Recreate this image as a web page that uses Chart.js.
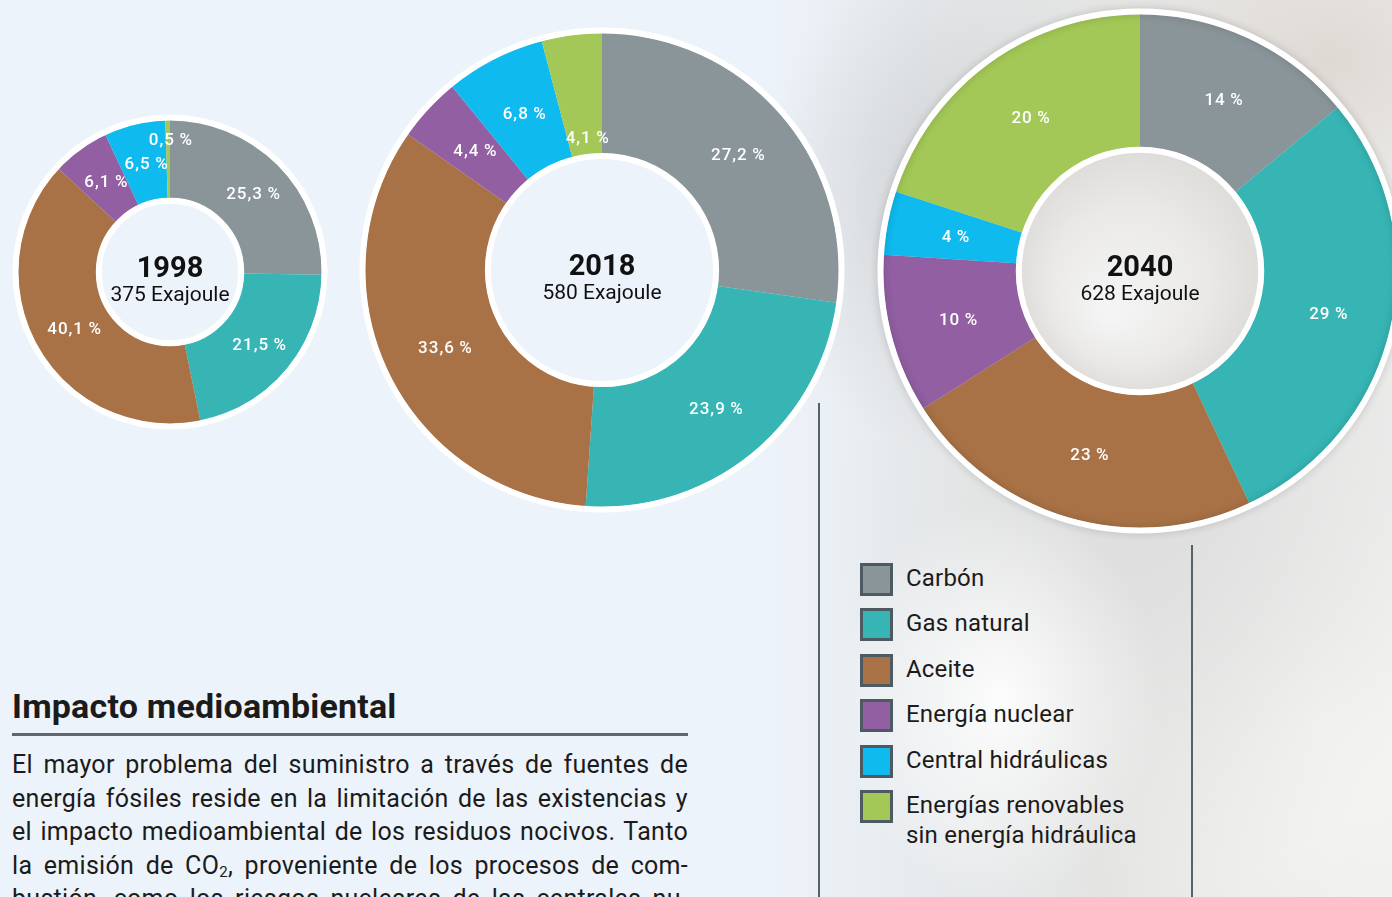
<!DOCTYPE html>
<html><head><meta charset="utf-8">
<script src="https://cdn.jsdelivr.net/npm/chart.js@4.4.1/dist/chart.umd.min.js"></script>
<style>
html,body{margin:0;padding:0;width:1392px;height:897px;overflow:hidden;}
body{position:relative;font-family:Roboto,"Noto Sans",sans-serif;color:#1b1b1b;
background:
 radial-gradient(ellipse 160px 200px at 1000px 700px, rgba(255,255,255,0.9), rgba(255,255,255,0) 100%),
 radial-gradient(ellipse 220px 170px at 1330px 60px, rgba(222,216,210,0.95), rgba(222,216,210,0) 100%),
 radial-gradient(ellipse 200px 260px at 960px 200px, rgba(205,207,209,0.9), rgba(205,207,209,0) 100%),
 radial-gradient(ellipse 320px 380px at 1150px 520px, rgba(222,222,222,1), rgba(222,222,222,0) 100%),
 radial-gradient(ellipse 260px 300px at 1320px 720px, rgba(246,246,244,1), rgba(246,246,244,0) 100%),
 linear-gradient(90deg, #EDF3FA 0px, #EDF3FA 760px, #E8ECEF 900px, #E4E4E3 1100px, #EDEDEC 1392px);}
.cv{position:absolute;}
.vline{position:absolute;width:2px;background:#56616A;}
#rule{position:absolute;left:12px;top:733px;width:676px;height:3px;background:#5C676E;}
#heading{position:absolute;left:12px;top:686px;font-size:34px;line-height:40px;font-weight:700;letter-spacing:0.2px;white-space:nowrap;}
#para{position:absolute;left:12px;top:748px;width:676px;font-size:25px;line-height:33.6px;letter-spacing:0.3px;}
#para div{text-align:justify;text-align-last:justify;white-space:nowrap;}
.lg{position:absolute;left:860px;}
.lg .sw{position:absolute;left:0;top:0;width:33px;height:33px;box-sizing:border-box;border:3px solid #4E5A61;}
.lg .tx{position:absolute;left:46px;top:0px;font-size:24px;line-height:30px;letter-spacing:0.2px;white-space:nowrap;color:#1b1b1b;}
</style></head><body>
<canvas id="ch1" class="cv" width="330" height="330" style="left:5px;top:107px"></canvas>
<canvas id="ch2" class="cv" width="500" height="500" style="left:352px;top:20px"></canvas>
<canvas id="ch3" class="cv" width="540" height="540" style="left:870px;top:1px"></canvas>
<div class="vline" style="left:818px;top:403px;height:494px"></div>
<div class="vline" style="left:1191px;top:545px;height:352px"></div>
<div id="legend"></div>
<div id="heading">Impacto medioambiental</div>
<div id="rule"></div>
<div id="para">
<div>El mayor problema del suministro a través de fuentes de</div>
<div>energía fósiles reside en la limitación de las existencias y</div>
<div>el impacto medioambiental de los residuos nocivos. Tanto</div>
<div>la emisión de CO<sub style="font-size:15px;vertical-align:-3px;line-height:0">2</sub>, proveniente de los procesos de com-</div>
<div>bustión, como los riesgos nucleares de las centrales nu-</div>
</div>
<script>
// ---- data ----
const categories = ['Carbón','Gas natural','Aceite','Energía nuclear','Central hidráulicas','Energías renovables sin energía hidráulica'];
const legendLines = [['Carbón'],['Gas natural'],['Aceite'],['Energía nuclear'],['Central hidráulicas'],['Energías renovables','sin energía hidráulica']];
const years = ['1998','2018','2040'];
const totals = ['375 Exajoule','580 Exajoule','628 Exajoule'];
const values1998 = [25.3, 21.5, 40.1, 6.1, 6.5, 0.5];
const values2018 = [27.2, 23.9, 33.6, 4.4, 6.8, 4.1];
const values2040 = [14, 29, 23, 10, 4, 20];
const colors = ['#8A959A','#36B5B4','#A97246','#915FA2','#0EBAEE','#A3C857'];

// ---- legend (HTML) ----
const lg = document.getElementById('legend');
legendLines.forEach((lines,i)=>{
  const d=document.createElement('div'); d.className='lg'; d.style.top=(563+i*45.4)+'px';
  d.innerHTML='<div class="sw" style="background:'+colors[i]+'"></div><div class="tx">'+lines.join('<br>')+'</div>';
  lg.appendChild(d);
});

const fmt = v => (Number.isInteger(v) ? String(v) : v.toFixed(1).replace('.', ',')) + '\u2009%';

const ringPlugin = {
  id:'rings',
  beforeDatasetsDraw(chart, args, opts){
    const a = chart.getDatasetMeta(0).data[0]; const ctx = chart.ctx;
    if(opts.innerFill){
      ctx.save();
      const g = ctx.createRadialGradient(a.x-30, a.y+40, 10, a.x, a.y, a.innerRadius);
      g.addColorStop(0,'#F4F4F4'); g.addColorStop(0.6,'#EAE9E7'); g.addColorStop(1,'#DEDCD9');
      ctx.fillStyle=g; ctx.beginPath(); ctx.arc(a.x,a.y,a.innerRadius,0,Math.PI*2); ctx.fill();
      ctx.restore();
    }
  },
  afterDatasetsDraw(chart, args, opts){
    const meta = chart.getDatasetMeta(0); const a = meta.data[0]; const ctx = chart.ctx;
    const w = opts.ringWidth || 6;
    ctx.save();
    ctx.strokeStyle = '#ffffff'; ctx.lineWidth = w;
    if(opts.shadow){ ctx.shadowColor='rgba(0,0,0,0.18)'; ctx.shadowBlur=8; }
    ctx.beginPath(); ctx.arc(a.x, a.y, a.outerRadius + w/2 - 0.5, 0, Math.PI*2); ctx.stroke();
    ctx.shadowBlur=0; ctx.shadowColor='transparent';
    ctx.beginPath(); ctx.arc(a.x, a.y, a.innerRadius - w/2 + 0.5, 0, Math.PI*2); ctx.stroke();
    // slice labels
    const data = chart.data.datasets[0].data;
    ctx.fillStyle = '#ffffff';
    ctx.font = '500 17px Roboto';
    ctx.textAlign='center'; ctx.textBaseline='middle';
    try{ ctx.letterSpacing='1px'; }catch(e){}
    meta.data.forEach((el,i)=>{
      const mid = (el.startAngle + el.endAngle)/2;
      const f = (opts.labelPos && opts.labelPos[i]!==undefined) ? opts.labelPos[i] : 0.5;
      const r = el.innerRadius + (el.outerRadius - el.innerRadius)*f;
      ctx.fillText(fmt(data[i]), el.x + Math.cos(mid)*r + 3, el.y + Math.sin(mid)*r + 2);
    });
    // center text
    try{ ctx.letterSpacing='0px'; }catch(e){}
    ctx.fillStyle='#111';
    ctx.font='700 29px Roboto';
    ctx.fillText(opts.title, a.x, a.y-2);
    ctx.font='400 21px Roboto';
    ctx.fillText(opts.sub, a.x, a.y+24);
    ctx.restore();
  }
};

function makeChart(id, values, radius, cutout, extra){
  new Chart(document.getElementById(id), {
    type:'doughnut',
    data:{ labels:categories, datasets:[{ data:values, backgroundColor:colors, borderWidth:0, hoverOffset:0 }] },
    options:{
      responsive:false, animation:false, radius:radius, cutout:cutout,
      layout:{padding:0},
      events:[],
      plugins:{ legend:{display:false}, tooltip:{enabled:false}, rings:extra }
    },
    plugins:[ringPlugin]
  });
}
makeChart('ch1', values1998, 152, 80, {title:years[0], sub:totals[0], labelPos:{5:0.76}});
makeChart('ch2', values2018, 237, 123, {title:years[1], sub:totals[1], labelPos:{5:0.15}});
makeChart('ch3', values2040, 257, 130, {title:years[2], sub:totals[2], innerFill:true, shadow:true});
</script>
</body></html>
